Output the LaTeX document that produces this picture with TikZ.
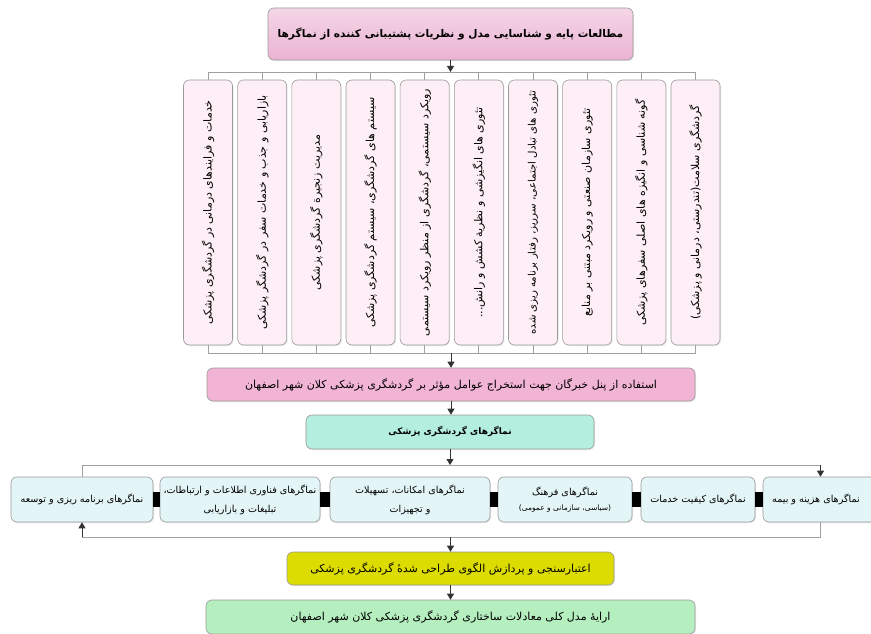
\documentclass[tikz,border=0pt]{standalone}
\usepackage{fontspec}
\newfontfamily\fa[Script=Arabic]{DejaVu Sans}
\TeXXeTstate=1
\usetikzlibrary{arrows.meta,shadows}
\newcommand\rl[1]{\beginR #1\endR}
\definecolor{vpink}{HTML}{FDEFF5}
\definecolor{midpink}{HTML}{F2B4D5}
\definecolor{toppinkA}{HTML}{F4D6E6}
\definecolor{toppinkB}{HTML}{EBB3D3}
\definecolor{mint}{HTML}{B3EEDF}
\definecolor{lcyan}{HTML}{E4F5F7}
\definecolor{yel}{HTML}{DCDC00}
\definecolor{lgreen}{HTML}{B5EFBF}
\definecolor{busgray}{HTML}{A0A0A0}
\definecolor{bordergray}{HTML}{9A9A9A}
\begin{document}
\begin{tikzpicture}[x=1pt,y=-1pt,
  base/.style={draw=bordergray, rounded corners=6pt, inner sep=0pt, line width=0.6pt,
    drop shadow={opacity=0.18, shadow xshift=1pt, shadow yshift=-1.2pt}},
  txt/.style={font=\fa\fontsize{11}{13}\selectfont, inner sep=0pt, align=center},
  vbox/.style={base, fill=vpink, minimum width=49pt, minimum height=265pt},
  rowbox/.style={base, fill=lcyan, minimum height=45pt, font=\fa\fontsize{9.6}{19}\selectfont, align=center},
  bus/.style={draw=busgray, line width=0.8pt},
  arr/.style={draw=black!80, line width=0.8pt, -{Triangle[width=7pt,length=6pt]}},
  blk/.style={draw=black, line width=15pt}]
\useasboundingbox (0,0) rectangle (871,634);
\fill[white] (0,0) rectangle (871,634);

% top box
\node[base, top color=toppinkA, bottom color=toppinkB, minimum width=365pt, minimum height=52pt,
  txt, font=\fa\bfseries\fontsize{10.6}{12}\selectfont] (top) at (450.5,34)
  {\rl{مطالعات پایه و شناسایی مدل و نظریات پشتیبانی کننده از نماگرها}};

% vertical boxes
\foreach \i/\s/\t [evaluate=\i as \cx using {208+54.17*(\i-1)}] in {
  1/11/{خدمات و فرایندهای درمانی در گردشگری پزشکی},
  2/11/{بازاریابی و جذب و خدمات سفر در گردشگر پزشکی},
  3/11/{مدیریت زنجیرة گردشگری پزشکی},
  4/11/{سیستم های گردشگری، سیستم گردشگری پزشکی},
  5/11/{رویکرد سیستمی، گردشگری از منظر رویکرد سیستمی},
  6/11/{تئوری های انگیزشی و نظریة کشش و رانش...},
  7/10.2/{تئوری های تبادل اجتماعی، سرریز، رفتار برنامه ریزی شده},
  8/11/{تئوری سازمان صنعتی و رویکرد مبتنی بر منابع},
  9/11/{گونه شناسی و انگیزه های اصلی سفرهای پزشکی},
  10/11/{گردشگری سلامت(تندرستی، درمانی و پزشکی)}} {
  \node[vbox] (v\i) at (\cx,212.5) {};
  \node[txt, rotate=90, font=\fa\fontsize{\s}{13}\selectfont] (vt\i) at (v\i.center) {\rl{\t}};
}

% buses around vertical boxes
\coordinate (bt) at (450,72);
\coordinate (bb) at (450,353);
\draw[bus] (v1.north |- bt) -- (v10.north |- bt);
\draw[bus] (v1.south |- bb) -- (v10.south |- bb);
\foreach \i in {1,...,10} {
  \draw[bus] (v\i.north) -- (v\i.north |- bt);
  \draw[bus] (v\i.south) -- (v\i.south |- bb);
}
\draw[arr] (top.south) -- (top.south |- bt);

% expert panel
\node[base, fill=midpink, minimum width=488pt, minimum height=33pt, txt] (pk) at (451,384.5)
  {\rl{استفاده از پنل خبرگان جهت استخراج عوامل مؤثر بر گردشگری پزشکی کلان شهر اصفهان}};
\draw[arr] (pk.north |- bb) -- (pk.north);

% indicators
\node[base, fill=mint, minimum width=288pt, minimum height=34pt, txt, font=\fa\bfseries\fontsize{9}{11}\selectfont] (mn) at (450,432)
  {\rl{نماگرهای گردشگری پزشکی}};
\draw[arr] (pk.south) -- (pk.south |- mn.north);

% row of indicator boxes
\node[rowbox, minimum width=115pt] (A) at (820.5,499.5) {};
\node[txt, font=\fa\fontsize{9.6}{12}\selectfont] (At) at (816,499.5) {\rl{نماگرهای هزینه و بیمه}};
\node[rowbox, minimum width=114pt] (B) at (698,499.5) {\rl{نماگرهای کیفیت خدمات}};
\node[rowbox, minimum width=134pt] (C) at (565,499.5)
  {\rl{نماگرهای فرهنگ}\\[-4pt]{\fontsize{7.5}{9}\selectfont\rl{(سیاسی، سازمانی و عمومی)}}};
\node[rowbox, minimum width=160pt] (D) at (410,499.5)
  {\rl{نماگرهای امکانات، تسهیلات}\\\rl{و تجهیزات}};
\node[rowbox, minimum width=160pt] (E) at (240,499.5)
  {\rl{نماگرهای فناوری اطلاعات و ارتباطات،}\\\rl{تبلیغات و بازاریابی}};
\node[rowbox, minimum width=142pt] (F) at (82,499.5) {\rl{نماگرهای برنامه ریزی و توسعه}};

\draw[blk] (F.east) -- (E.west);
\draw[blk] (E.east) -- (D.west);
\draw[blk] (D.east) -- (C.west);
\draw[blk] (C.east) -- (B.west);
\draw[blk] (B.east) -- (A.west);

\coordinate (rt) at (450,465);
\coordinate (rb) at (450,537);
\draw[arr] (mn.south) -- (rt);
\draw[bus] (F.north) -- (F.north |- rt) -- (A.north |- rt);
\draw[arr] (A.north |- rt) -- (A.north);
\draw[bus] (A.south) -- (A.south |- rb) -- (F.south |- rb);
\draw[arr] (F.south |- rb) -- (F.south);

% validation
\node[base, fill=yel, minimum width=327pt, minimum height=33pt, txt] (Y) at (450.5,568.5)
  {\rl{اعتبارسنجی و پردازش الگوی طراحی شدهٔ گردشگری پزشکی}};
\draw[arr] (Y.north |- rb) -- (Y.north);

% final
\node[base, fill=lgreen, minimum width=489pt, minimum height=34pt, txt] (G) at (450.5,617)
  {\rl{ارایهٔ مدل کلی معادلات ساختاری گردشگری پزشکی کلان شهر اصفهان}};
\draw[arr] (Y.south) -- (G.north);
\end{tikzpicture}
\end{document}
